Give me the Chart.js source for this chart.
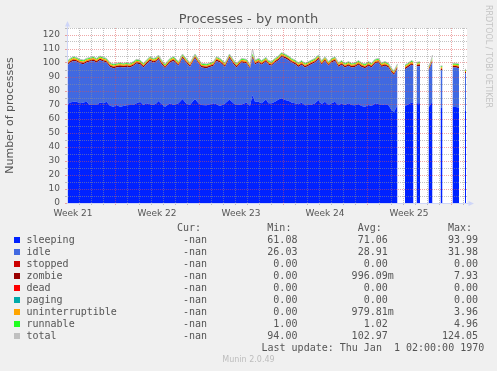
<!DOCTYPE html>
<html><head><meta charset="utf-8">
<script src="https://cdn.jsdelivr.net/npm/chart.js@4.4.0/dist/chart.umd.min.js"></script>
<style>
html,body{margin:0;padding:0;background:#f0f0f0;}
#wrap{position:relative;width:497px;height:371px;overflow:hidden;background:#f0f0f0;}
#c{position:absolute;left:0;top:0;}
.t{position:absolute;white-space:pre;}
#title{left:0;width:497px;text-align:center;top:12px;font:13px "DejaVu Sans";color:#555;line-height:13px;}
.lg{font:10px "DejaVu Sans Mono";color:#555;line-height:12px;}
.sq{position:absolute;width:6px;height:6px;left:14px;}
#rrd{left:483px;top:5px;font:8px "DejaVu Sans";color:#c4c4c4;writing-mode:vertical-rl;line-height:10px;}
#munin{left:0;width:497px;text-align:center;top:355px;font:8px "DejaVu Sans";color:#bdbdbd;line-height:10px;}
</style></head>
<body><div id="wrap"><canvas id="c" width="497" height="371"></canvas>
<div id="title" class="t">Processes - by month</div>
<div id="rrd" class="t">RRDTOOL / TOBI OETIKER</div>
<div id="legend"></div>
<div id="upd" class="t lg" style="left:261.5px;top:342px;">Last update: Thu Jan  1 02:00:00 1970</div>
<div id="munin" class="t">Munin 2.0.49</div>
</div>
<script>
// time axis in hours from the left edge of the graph (2 hours per pixel)
const hours = [0,6,13,19,26,33,39,46,53,59,
 66,73,79,86,93,99,106,113,119,126,
 133,139,146,153,159,166,173,179,183,189,
 196,206,213,223,231,238,246,251,256,263,
 269,279,293,299,306,316,325,333,339,349,
 359,366,371,376,383,389,398,403,409,416,
 423,429,436,443,449,456,463,469,476,483,
 489,496,503,509,516,523,529,536,543,549,
 556,563,569,576,583,589,596,603,609,616,
 623,629,636,643,649,654,661,665,676,683,
 689,693,696,699,706,712,723,727,731,736,
 747,751,755,771,778,784,790,796,798];

const sleeping = [70.0,71.7,72.4,72.4,71.2,71.7,72.4,70.0,70.0,70.0,
 71.7,71.2,72.4,69.5,68.8,70.0,68.8,69.3,69.8,70.0,
 70.0,71.2,72.4,70.0,71.2,70.5,70.0,71.2,72.9,70.7,
 68.8,71.2,70.0,71.2,74.3,71.2,70.0,72.4,74.3,71.2,
 70.0,69.8,71.2,70.5,69.3,71.0,74.0,71.2,70.0,70.3,
 71.7,69.5,77.1,72.4,72.4,71.2,74.0,71.2,71.2,72.4,
 74.0,74.8,73.6,73.1,71.7,71.2,70.5,71.7,69.8,70.0,
 70.2,71.2,73.6,70.7,72.4,70.0,71.2,72.4,69.8,71.2,
 70.0,71.2,70.0,69.8,70.7,69.3,68.8,70.0,69.3,71.2,
 70.7,70.0,70.5,69.8,66.4,65.0,70.0,null,69.3,70.5,
 71.7,71.2,null,71.2,71.2,null,68.0,70.5,72.4,null,
 68.0,68.0,null,68.8,68.5,68.0,null,66.0,66.0];

const idle = [28.0,28.6,29.1,28.6,28.4,27.4,27.9,31.0,31.5,30.3,
 30.3,29.8,27.9,27.7,27.5,26.8,28.4,27.5,27.4,26.8,
 28.0,28.4,26.7,26.8,27.9,31.0,30.3,29.8,29.8,28.4,
 27.5,29.1,31.5,26.8,29.1,29.1,27.2,27.9,29.1,28.4,
 26.8,26.5,26.8,31.0,31.0,26.2,29.4,27.9,26.8,30.0,
 27.9,26.5,26.5,26.6,27.9,27.5,27.0,27.5,26.8,27.9,
 28.0,29.6,29.8,28.9,28.6,27.9,26.7,27.0,27.0,28.0,
 28.9,29.1,29.1,28.0,29.1,28.0,29.1,29.1,27.4,27.5,
 26.8,26.8,26.8,27.4,28.0,27.9,27.5,28.0,27.5,28.4,
 29.6,27.2,27.5,27.0,26.8,26.5,26.3,null,26.3,26.7,
 27.0,26.8,null,26.3,26.7,null,26.5,27.0,28.6,null,
 26.9,26.9,null,28.0,28.3,28.3,null,26.5,26.5];

const zombie = [1,1,1,1,1,1,1,1,1,1,
 1,1,1,1,1,1,1,1,1,1,
 1,1,1,1,1,1,1,1,1,1,
 1,1,1,1,1,1,1,1,1,1,
 1,1,1,1,1,1,1,1,1,1,
 1,1,1,1,1,1,1,1,1,1,
 1,1,1,1,1,1,1,1,1,1,
 1,1,1,1,1,1,1,1,1,1,
 1,1,1,1,1,1,1,1,1,1,
 1,1,1,1,1,1,1,null,1,1,
 1,1,null,1,1,null,1,1,1,null,
 1,1,null,1,1,1,null,1,1];

const uninterruptible = [1,1,1,1,1,1,1,1,1,1,
 1,1,1,1,1,1,1,1,1,1,
 1,1,1,1,1,1,1,1,1,1,
 1,1,1,1,1,1,1,1,1,1,
 1,1,1,1,1,1,1,1,1,1,
 1,1,1,1,1,1,1,1,1,1,
 1,1,1,1,1,1,1,1,1,1,
 1,1,1,1,1,1,1,1,1,1,
 1,1,1,1,1,1,1,1,1,1,
 1,1,1,1,1,1,1,null,1,1,
 1,1,null,1,1,null,1,1,1,null,
 1,1,null,1,1,1,null,1,1];

const runnable = [1,1,1,1,1,1,1,1,1,1,
 1,1,1,1,1,1,1,1,1,1,
 1,1,1,1,1,1,1,1,1,1,
 1,1,1,1,1,1,1,1,1,1,
 1,1,1,1,1,1,1,1,1,1,
 1,1,1,1,1,1,1,1,1,1,
 1,1,1,1,1,1,1,1,1,1,
 1,1,1,1,1,1,1,1,1,1,
 1,1,1,1,1,1,1,1,1,1,
 1,1,1,1,1,1,1,null,1,1,
 1,1,null,1,1,null,1,1,1,null,
 1,1,null,1,1,1,null,1,1];

const total = [101.0,103.3,104.5,104.0,102.6,102.1,103.3,104.0,104.5,103.3,
 105.0,104.0,103.3,100.2,99.3,99.8,100.2,99.8,100.2,99.8,
 101.0,102.6,102.1,99.8,102.1,104.5,103.3,104.0,105.7,102.1,
 99.3,103.3,104.5,101.0,106.4,103.3,100.2,103.3,106.4,102.6,
 99.8,99.3,101.0,104.5,103.3,100.2,106.4,102.1,99.8,103.3,
 102.6,99.0,110.0,102.0,103.3,101.7,104.0,101.7,101.0,103.3,
 105.0,107.4,106.4,105.0,103.3,102.1,100.2,101.7,99.8,101.0,
 102.1,103.3,105.7,101.7,104.5,101.0,103.3,104.5,100.2,101.7,
 99.8,101.0,99.8,100.2,101.7,100.2,99.3,101.0,99.8,102.6,
 103.3,100.2,101.0,99.8,96.2,94.5,99.3,null,98.6,100.2,
 101.7,101.0,null,100.5,100.9,null,97.5,100.5,105.7,null,
 97.9,97.9,null,99.8,99.8,99.3,null,95.5,95.5];

const weekLabels = ['Week 21','Week 22','Week 23','Week 24','Week 25'];
const weekLabelHours = [12,180,348,516,684];
const weekStartHours = [96,264,432,600,768];

// legend table
const legNames = ['sleeping','idle','stopped','zombie','dead','paging','uninterruptible','runnable','total'];
const legColors = ['#0022ff','#4169e1','#cc0000','#990000','#ff0000','#00aaaa','#ffa500','#22ff22','#c0c0c0'];
const legCur = ['-nan','-nan','-nan','-nan','-nan','-nan','-nan','-nan','-nan'];
const legMin = ['61.08','26.03','0.00','0.00','0.00','0.00','0.00','1.00','94.00'];
const legAvg = ['71.06','28.91','0.00','996.09m','0.00','0.00','979.81m','1.02','102.97'];
const legMax = ['93.99','31.98','0.00','7.93','0.00','0.00','3.96','4.96','124.05'];

const C_BLUE='#0022ff', C_IDLE='#4169e1', C_ZOMB='#990000', C_UNINT='#ffa500', C_RUN='#22ff22', C_TOT='#c0c0c0';
const AXIS='#cfd6f8';
const GRID='rgba(143,143,143,0.55)', MGRID='rgba(222,79,79,0.5)';

(function buildLegend(){
  const leg = document.getElementById('legend');
  const x0 = 26.5;
  function line(){ return new Array(80).fill(' '); }
  function put(ch, s, end){ for(let i=0;i<s.length;i++) ch[end - s.length + i] = s[i]; }
  function putVal(ch, v, end){ const m = v.endsWith('m'); const n = m ? v.slice(0,-1) : v; put(ch, n, end); if (m) ch[end] = 'm'; }
  const h = line(); put(h,'Cur:',29); put(h,'Min:',44); put(h,'Avg:',59); put(h,'Max:',74);
  const hd = document.createElement('div'); hd.className='t lg'; hd.style.left=x0+'px'; hd.style.top='222px';
  hd.textContent = h.join('').replace(/\s+$/,''); leg.appendChild(hd);
  for (let i=0;i<legNames.length;i++){
    const ch = line(); put(ch, legNames[i], legNames[i].length);
    putVal(ch, legCur[i], 30); putVal(ch, legMin[i], 45); putVal(ch, legAvg[i], 60); putVal(ch, legMax[i], 75);
    const d = document.createElement('div'); d.className='t lg'; d.style.left=x0+'px'; d.style.top=(234+12*i)+'px';
    d.textContent = ch.join('').replace(/\s+$/,''); leg.appendChild(d);
    const s = document.createElement('div'); s.className='sq'; s.style.background=legColors[i]; s.style.top=(237+12*i)+'px';
    leg.appendChild(s);
  }
})();

const pts = arr => hours.map((h,i)=>({x:h, y:arr[i]}));

const decor = {
  id:'decor',
  beforeDraw(chart){
    const {ctx, chartArea:a} = chart;
    ctx.save(); ctx.fillStyle='#ffffff';
    ctx.fillRect(a.left, a.top, a.right-a.left, a.bottom-a.top);
    ctx.restore();
  },
  afterDraw(chart){
    const {ctx, chartArea:a} = chart;
    ctx.save();
    ctx.strokeStyle = AXIS; ctx.fillStyle = AXIS; ctx.lineWidth = 1;
    const xl = Math.floor(a.left)+0.5, yb = Math.floor(a.bottom)+0.5;
    ctx.beginPath(); ctx.moveTo(xl, a.top); ctx.lineTo(xl, a.top-3); ctx.stroke();
    ctx.beginPath(); ctx.moveTo(xl, a.top-7); ctx.lineTo(xl-2.5, a.top-1.5); ctx.lineTo(xl+2.5, a.top-1.5); ctx.closePath(); ctx.fill();
    ctx.beginPath(); ctx.moveTo(a.right, yb); ctx.lineTo(a.right+3, yb); ctx.stroke();
    ctx.beginPath(); ctx.moveTo(a.right+7, yb); ctx.lineTo(a.right+1.5, yb-2.5); ctx.lineTo(a.right+1.5, yb+2.5); ctx.closePath(); ctx.fill();
    ctx.restore();
  }
};

function xTickKind(v){
  if (weekLabelHours.includes(v)) return 'label';
  if (weekStartHours.includes(v)) return 'major';
  if (v === 0) return 'zero';
  return 'minor';
}

new Chart(document.getElementById('c'), {
  type:'line',
  data:{ datasets:[
    {label:'sleeping', data:pts(sleeping), backgroundColor:C_BLUE, fill:'origin'},
    {label:'idle', data:pts(idle), backgroundColor:C_IDLE, fill:'-1'},
    {label:'zombie', data:pts(zombie), backgroundColor:C_ZOMB, fill:'-1'},
    {label:'uninterruptible', data:pts(uninterruptible), backgroundColor:C_UNINT, fill:'-1'},
    {label:'runnable', data:pts(runnable), backgroundColor:C_RUN, fill:'-1'},
    {label:'total', data:pts(total), borderColor:C_TOT, borderWidth:1, fill:false, stack:'t', order:-1}
  ]},
  options:{
    responsive:false, animation:false, devicePixelRatio:1,
    layout:{padding:{left:0, right:30, top:28, bottom:148}},
    elements:{point:{radius:0, hitRadius:0}, line:{tension:0, borderWidth:0}},
    plugins:{legend:{display:false}, tooltip:{enabled:false}, title:{display:false}},
    scales:{
      x:{
        type:'linear', min:0, max:800,
        afterBuildTicks(scale){
          const t = [];
          for (let h=0; h<=800; h+=24) t.push({value:h});
          weekLabelHours.forEach(h=>t.push({value:h}));
          t.sort((a,b)=>a.value-b.value);
          scale.ticks = t;
        },
        afterFit(scale){ scale.height = 20; },
        ticks:{
          autoSkip:false, maxRotation:0, minRotation:0, padding:3,
          color:'#555', font:{family:'DejaVu Sans', size:9},
          callback(v){ const i = weekLabelHours.indexOf(v); return i>=0 ? weekLabels[i] : ''; }
        },
        grid:{
          z:1, lineWidth:1, tickLength:2,
          color(ctx){ const k = xTickKind(ctx.tick.value); return k==='major'?MGRID:(k==='minor'?GRID:'rgba(0,0,0,0)'); },
          tickColor(ctx){ const k = xTickKind(ctx.tick.value); return k==='major'?MGRID:(k==='minor'?GRID:'rgba(0,0,0,0)'); }
        },
        border:{display:true, color:AXIS, width:1, dash:[1,1], z:2}
      },
      y:{
        stacked:true, min:0, max:125,
        afterFit(scale){ scale.width = 67; },
        ticks:{
          stepSize:5, autoSkip:false, padding:5,
          color:'#555', font:{family:'DejaVu Sans', size:9},
          callback(v){ return v%10===0 ? String(v) : ''; }
        },
        grid:{
          z:1, lineWidth:1, tickLength:2,
          color(ctx){ const v = ctx.tick.value; if (v===0) return 'rgba(0,0,0,0)'; return v%10===0?MGRID:GRID; },
          tickColor(ctx){ const v = ctx.tick.value; return v%10===0?MGRID:GRID; }
        },
        border:{display:true, color:AXIS, width:1, dash:[1,1], z:2},
        title:{display:true, text:'Number of processes', color:'#555', font:{family:'DejaVu Sans', size:11}, padding:{top:4, bottom:0}}
      }
    }
  },
  plugins:[decor]
});
</script>
</body></html>
